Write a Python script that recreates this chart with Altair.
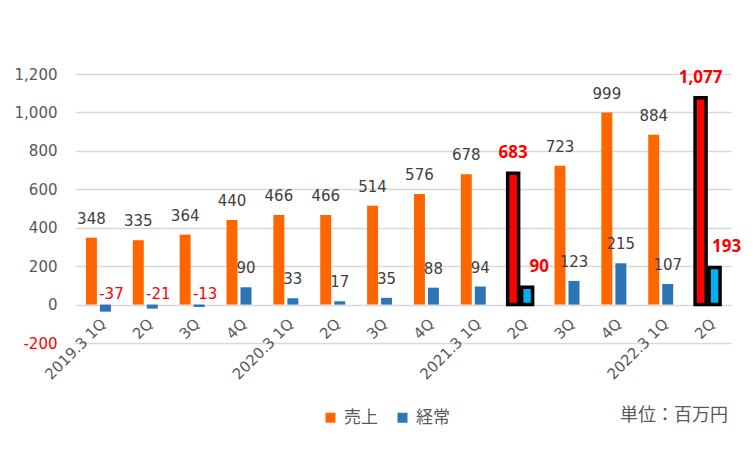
import altair as alt
import pandas as pd

categories = ["2019.3 1Q", "2Q", "3Q", "4Q", "2020.3 1Q", "2Q", "3Q", "4Q",
              "2021.3 1Q", "2Q", "3Q", "4Q", "2022.3 1Q", "2Q"]
sales = [348, 335, 364, 440, 466, 466, 514, 576, 678, 683, 723, 999, 884, 1077]
ordinary = [-37, -21, -13, 90, 33, 17, 35, 88, 94, 90, 123, 215, 107, 193]
highlighted = [9, 13]
series_names = ["売上", "経常"]
y_ticks = [-200, 0, 200, 400, 600, 800, 1000, 1200]
unit_text = "単位：百万円"

rows = []
for i, c in enumerate(categories):
    rows.append({"idx": i, "series": series_names[0], "value": sales[i], "hl": i in highlighted, "zero": 0})
    rows.append({"idx": i, "series": series_names[1], "value": ordinary[i], "hl": i in highlighted, "zero": 0})
df = pd.DataFrame(rows)

ORANGE = "#FF6600"
BLUE = "#2E75B6"
GRAY = "#595959"
DARK = "#404040"
FONT = "DejaVu Sans"
BOLDFONT = "Noto Sans"
CJK = "Noto Sans CJK JP"

label_expr = "[" + ",".join("'%s'" % c for c in categories) + "][datum.value]"
num_expr = "datum.value < 0 ? '-' + format(-datum.value, ',d') : format(datum.value, ',d')"

x_enc = alt.X("idx:O", scale=alt.Scale(paddingInner=0.467, paddingOuter=0.2335),
              axis=alt.Axis(title=None, labelExpr=label_expr, labelAngle=-45, domain=False,
                            ticks=False, offset=-38, labelPadding=11, labelFontSize=15,
                            labelColor=GRAY, labelFont=FONT, grid=False, labelOverlap=False))
xoff = alt.XOffset("series:N", sort=series_names,
                   scale=alt.Scale(paddingInner=0.214, paddingOuter=0))
y_enc = alt.Y("value:Q", scale=alt.Scale(domain=[-200, 1200], nice=False),
              axis=alt.Axis(title=None, values=y_ticks, tickCount=20, labelExpr=num_expr,
                            domain=False, ticks=False,
                            labelFontSize=15, labelFont=FONT, labelPadding=18, labelOverlap=False,
                            labelColor=alt.expr("datum.value < 0 ? '#FF0000' : '#595959'"),
                            gridColor="#D9D9D9", gridWidth=1.3))

base = alt.Chart(df).transform_calculate(
    lab="datum.value < 0 ? '-' + format(-datum.value, ',d') : format(datum.value, ',d')")

bars = base.mark_bar().encode(
    x=x_enc, xOffset=xoff, y=y_enc,
    color=alt.Color("series:N", sort=series_names,
                    scale=alt.Scale(domain=series_names, range=[ORANGE, BLUE]),
                    legend=alt.Legend(orient="none", legendX=247, legendY=335, direction="horizontal",
                                      title=None, symbolType="square", symbolSize=100,
                                      symbolStrokeWidth=0, labelFontSize=17, labelFont=CJK,
                                      labelColor=GRAY, labelOffset=5, columnPadding=16, padding=0)),
)

hl_sales = base.transform_filter("datum.hl && datum.series == '売上'").mark_bar(
    fill="#FF0000", stroke="black", strokeWidth=3.5).encode(x="idx:O", xOffset=xoff, y="value:Q")
hl_ord = base.transform_filter("datum.hl && datum.series == '経常'").mark_bar(
    fill="#00B0F0", stroke="black", strokeWidth=3.5).encode(x="idx:O", xOffset=xoff, y="value:Q")

txt_common = dict(x="idx:O", xOffset=xoff, text="lab:N")

lab_pos = base.transform_filter("!datum.hl && datum.value >= 0").mark_text(
    baseline="alphabetic", dy=-14, fontSize=15, font=FONT, color=DARK).encode(y="value:Q", **txt_common)
lab_neg = base.transform_filter("!datum.hl && datum.value < 0").mark_text(
    baseline="alphabetic", dy=-6, dx=6, fontSize=15, font=FONT, color="#FF0000").encode(y="zero:Q", **txt_common)
lab_hl_s = base.transform_filter("datum.hl && datum.series == '売上'").mark_text(
    baseline="alphabetic", dy=-15, fontSize=17, fontWeight="bold", font=BOLDFONT, color="#FF0000").encode(y="value:Q", **txt_common)
lab_hl_o = base.transform_filter("datum.hl && datum.series == '経常'").mark_text(
    baseline="alphabetic", dy=-15, dx=12, fontSize=17, fontWeight="bold", font=BOLDFONT, color="#FF0000").encode(y="value:Q", **txt_common)

unit = alt.Chart(pd.DataFrame({"t": [unit_text]})).mark_text(
    align="left", baseline="middle", fontSize=18, font=CJK, color=GRAY).encode(
    x=alt.value(545), y=alt.value(342), text="t:N")

chart = alt.layer(bars, hl_sales, hl_ord, lab_pos, lab_neg, lab_hl_s, lab_hl_o, unit).properties(
    width=656, height=269,
    padding={"left": 67, "top": 66, "right": 16, "bottom": 100},
    autosize=alt.AutoSizeParams(type="none"),
).configure_view(stroke=None)

chart.save("out.html", embed_options={"renderer": "svg", "actions": False})
